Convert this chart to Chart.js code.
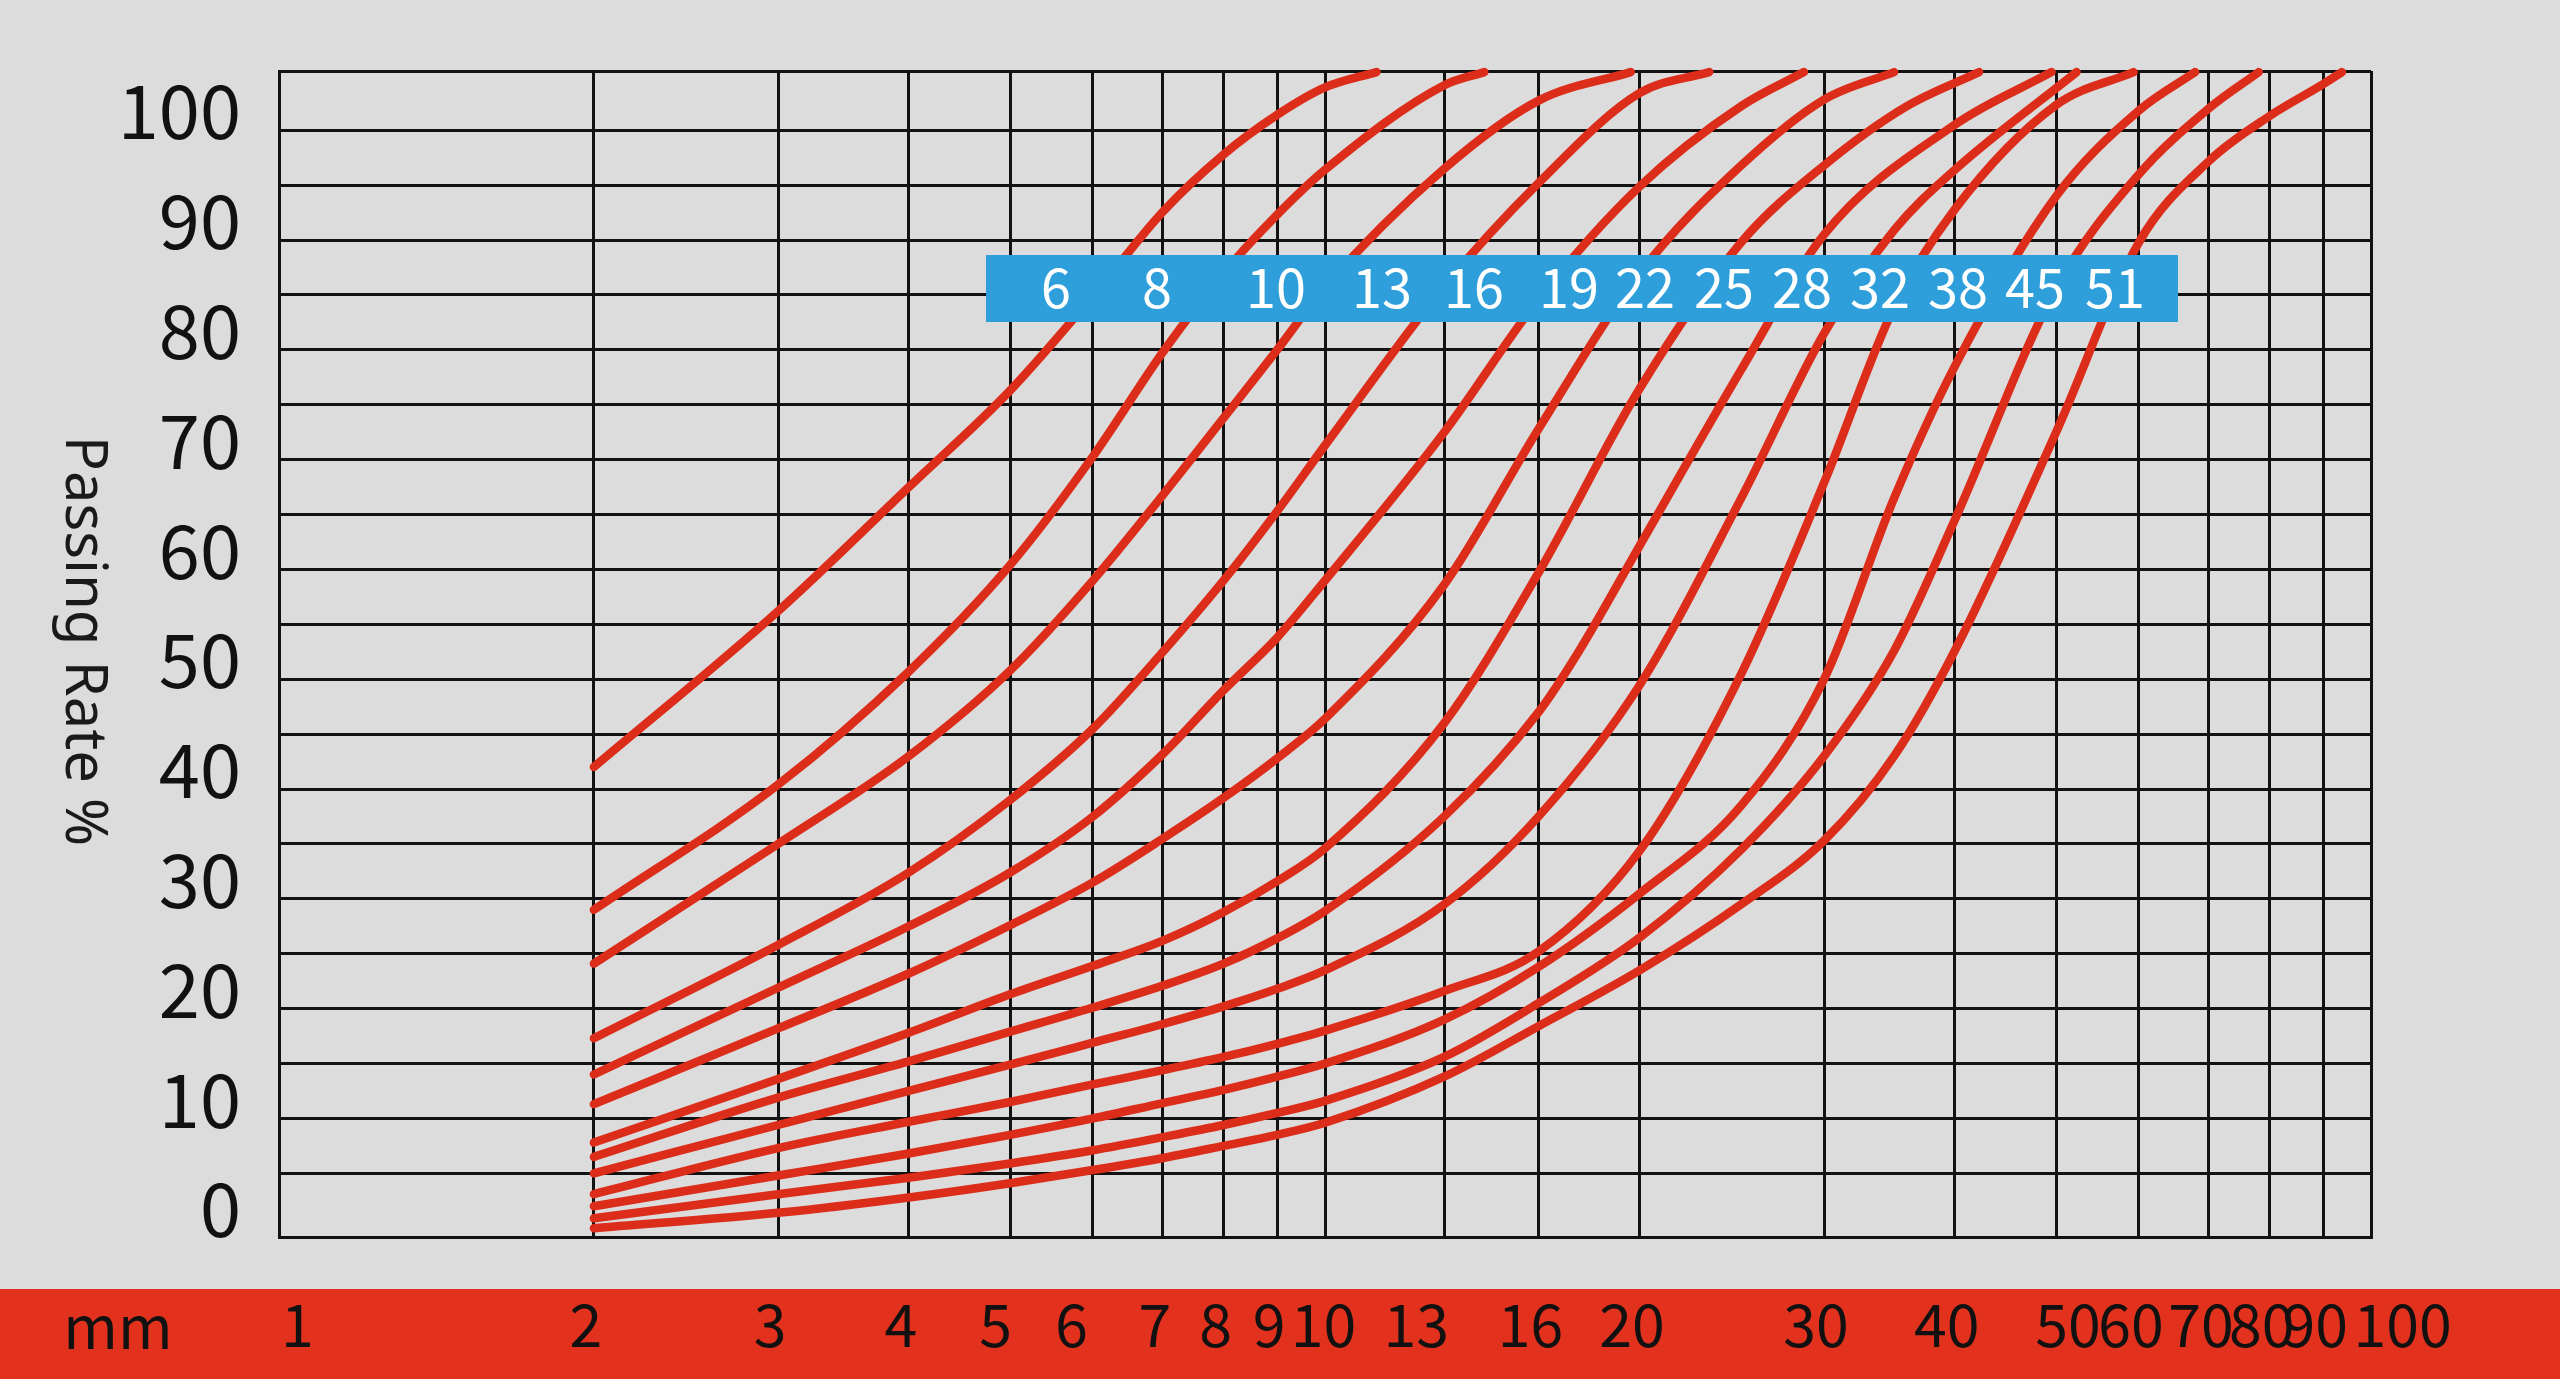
<!DOCTYPE html>
<html>
<head>
<meta charset="utf-8">
<title>Passing Rate %</title>
<script src="https://cdn.jsdelivr.net/npm/chart.js@4.4.1/dist/chart.umd.min.js"></script>
<style>
  html, body { margin: 0; padding: 0; background: #dcdcdc; }
  canvas { display: block; }
</style>
</head>
<body>
<canvas id="grading-chart" width="2560" height="1379"></canvas>
<script>
// max aggregate size (mm) of each curve, as printed in the blue strip
const sizes = ['6', '8', '10', '13', '16', '19', '22', '25', '28', '32', '38', '45', '51'];

// sieve openings on the x axis (mm) and passing rate ticks (%)
const sieveTicks = [1, 2, 3, 4, 5, 6, 7, 8, 9, 10, 13, 16, 20, 30, 40, 50, 60, 70, 80, 90, 100];
const passTicks = [0, 5, 10, 15, 20, 25, 30, 35, 40, 45, 50, 55, 60, 65, 70, 75, 80, 85, 90, 95, 100];

// [sieve mm, passing %]
const curve6 = [[2, 42], [3, 56.2], [4, 67.5], [5, 76.3], [6, 84.9], [7, 92.6], [8, 97.8], [9, 101.4], [10, 103.9], [11.2, 105.3]];
const curve8 = [[2, 29], [3, 40.4], [4, 50.7], [5, 60.4], [6, 70.3], [7, 79.8], [8, 87], [9, 92.3], [10, 96.4], [13, 104.1], [14.2, 105.3]];
const curve10 = [[2, 24.1], [3, 35], [4, 43], [5, 50.8], [6, 59], [7, 66.8], [8, 73.8], [9, 80], [10, 85.7], [13, 96.5], [16, 102.7], [19.6, 105.3]];
const curve13 = [[2, 17.3], [3, 25.8], [4, 32.4], [5, 39], [6, 45.5], [7, 52.5], [8, 59], [9, 65.3], [10, 71.3], [13, 85.8], [16, 95.2], [20, 103.4], [23.3, 105.3]];
const curve16 = [[2, 14], [3, 21.9], [4, 27.5], [5, 32.4], [6, 37.5], [7, 43.2], [8, 49], [9, 53.8], [10, 59], [13, 72.5], [16, 84.6], [20, 94.9], [25, 102.2], [28.7, 105.3]];
const curve19 = [[2, 11.3], [3, 18.2], [4, 23.2], [5, 27.6], [6, 31.5], [7, 35.5], [8, 39.2], [9, 42.8], [10, 46.4], [13, 58.6], [16, 72.8], [20, 87], [25, 96.8], [30, 102.8], [35, 105.3]];
const curve22 = [[2, 7.8], [3, 13.6], [4, 17.8], [5, 21.3], [6, 23.9], [7, 26.2], [8, 28.8], [9, 31.6], [10, 34.6], [13, 46], [16, 59.7], [20, 76.5], [25, 89.8], [30, 96.8], [36, 102.2], [42.2, 105.3]];
const curve25 = [[2, 6.5], [3, 11.9], [4, 15.2], [5, 17.9], [6, 20.1], [7, 22.1], [8, 24.1], [9, 26.4], [10, 28.9], [13, 37.5], [16, 47], [17.5, 52.6], [20, 62.2], [25, 78.2], [30, 90.5], [40, 100.5], [49.5, 105.3]];
const curve28 = [[2, 5], [3, 9.4], [4, 12.5], [5, 14.9], [6, 16.9], [7, 18.6], [8, 20.2], [9, 21.8], [10, 23.5], [13, 29.5], [16, 37.5], [20, 49.5], [25, 66.5], [30, 81.5], [35, 90.9], [40, 96.4], [52.3, 105.3]];
const curve32 = [[2, 3.1], [3, 7.3], [4, 9.7], [5, 11.5], [6, 13.1], [7, 14.4], [8, 15.6], [9, 16.8], [10, 18], [13, 21.6], [16, 25.2], [20, 34.4], [25, 50.5], [30, 67.9], [35, 83.9], [40, 92.8], [50, 102.3], [59.3, 105.3]];
const curve38 = [[2, 2], [3, 4.8], [4, 6.8], [5, 8.5], [6, 10], [7, 11.4], [8, 12.6], [9, 13.8], [10, 15], [13, 19], [16, 23.8], [20, 30.5], [25, 38.5], [30, 50], [35, 66.5], [40, 78.5], [50, 94], [60, 101.8], [67.9, 105.3]];
const curve45 = [[2, 0.9], [3, 3.1], [4, 4.6], [5, 5.9], [6, 7.1], [7, 8.3], [8, 9.4], [9, 10.5], [10, 11.6], [13, 15.6], [16, 20.5], [20, 26.5], [25, 34.5], [30, 43], [35, 52.6], [40, 64.5], [50, 85.6], [60, 96], [70, 102], [78.1, 105.3]];
const curve51 = [[2, 0], [3, 1.4], [4, 2.8], [5, 4.1], [6, 5.3], [7, 6.4], [8, 7.5], [9, 8.5], [10, 9.6], [13, 13.8], [16, 18.4], [20, 23.5], [25, 29.5], [30, 35.3], [35, 43], [40, 52.6], [50, 72.5], [60, 89.8], [70, 97.2], [80, 101.3], [90, 104.2], [93.8, 105.3]];

const curves = [curve6, curve8, curve10, curve13, curve16, curve19, curve22, curve25, curve28, curve32, curve38, curve45, curve51];

const gridColor = '#121212';
const curveColor = '#dc2d1a';

// some x labels sit a little off their grid line in the original:
// positive = pad on the left (moves right), negative = pad on the right
const labelNudge = { 1: 4, 5: -1, 6: -2, 10: 1, 13: -3, 50: 3, 100: 6 };
const xLabel = (v) => {
    const n = labelNudge[v] || 0;
    const pad = ' '.repeat(Math.abs(n));
    return n > 0 ? pad + v : String(v) + pad;
};

// background, red mm band, blue size strip and the free-standing texts
const decorations = {
    id: 'decorations',
    beforeDraw(chart) {
        const ctx = chart.ctx;
        ctx.save();
        ctx.fillStyle = '#dcdcdc';
        ctx.fillRect(0, 0, chart.width, chart.height);
        ctx.fillStyle = '#e2321d';
        ctx.fillRect(0, 1289, chart.width, chart.height - 1289);
        ctx.restore();
    },
    afterDraw(chart) {
        const ctx = chart.ctx;
        ctx.save();

        // blue strip with the size of each curve
        ctx.fillStyle = '#2f9fdc';
        ctx.fillRect(986, 255, 1192, 67);
        const labelX = [1056, 1157, 1276, 1382, 1474, 1569, 1645, 1724, 1802, 1880, 1958, 2035, 2115];
        ctx.fillStyle = '#ffffff';
        ctx.font = '54px "Noto Sans CJK SC"';
        ctx.textAlign = 'center';
        ctx.textBaseline = 'alphabetic';
        sizes.forEach((s, i) => ctx.fillText(s, labelX[i], 308));

        // unit in the red band
        ctx.fillStyle = '#111111';
        ctx.font = '59px "Noto Sans CJK SC"';
        ctx.fillText('mm', 118, 1349);

        // y axis title, reading top to bottom
        ctx.translate(66, 641);
        ctx.rotate(Math.PI / 2);
        ctx.fillStyle = '#1a1a1a';
        ctx.font = '58px "Noto Sans"';
        ctx.fillText('Passing Rate %', 0, 0);
        ctx.restore();
    }
};

new Chart(document.getElementById('grading-chart'), {
    type: 'line',
    data: {
        datasets: curves.map((c, i) => ({
            label: sizes[i] + ' mm',
            data: c,
            borderColor: curveColor,
            backgroundColor: curveColor,
            borderWidth: 8.5,
            borderCapStyle: 'round',
            borderJoinStyle: 'round',
            cubicInterpolationMode: 'monotone',
            pointRadius: 0,
            fill: false,
            clip: false,
        }))
    },
    options: {
        responsive: false,
        animation: false,
        devicePixelRatio: 1,
        layout: { padding: { left: 0, top: 71, right: 189, bottom: 0 } },
        plugins: {
            legend: { display: false },
            tooltip: { enabled: false },
        },
        scales: {
            x: {
                type: 'logarithmic',
                min: 1,
                max: 100,
                afterBuildTicks: (scale) => { scale.ticks = sieveTicks.map(v => ({ value: v })); },
                afterFit: (scale) => {
                    scale.height = 142;
                    scale.paddingLeft = 0;
                    scale.paddingRight = 0;
                },
                grid: { color: gridColor, lineWidth: 3, drawTicks: false },
                border: { color: gridColor, width: 3 },
                ticks: {
                    autoSkip: false,
                    maxRotation: 0,
                    minRotation: 0,
                    padding: 52,
                    labelOffset: -8,
                    color: '#111111',
                    font: { family: '"Noto Sans CJK SC"', size: 59 },
                    callback: xLabel,
                },
            },
            y: {
                min: -0.8,
                max: 105.4,
                afterBuildTicks: (scale) => { scale.ticks = passTicks.concat([105.4]).map(v => ({ value: v })); },
                afterFit: (scale) => {
                    scale.width = 279;
                    scale.paddingTop = 0;
                    scale.paddingBottom = 0;
                },
                grid: {
                    color: (c) => (c.tick && c.tick.value === 0) ? 'rgba(0,0,0,0)' : gridColor,
                    lineWidth: 3,
                    drawTicks: false,
                },
                border: { color: gridColor, width: 3 },
                ticks: {
                    autoSkip: false,
                    padding: 38,
                    labelOffset: -19,
                    color: '#111111',
                    font: { family: '"Noto Sans CJK SC"', size: 74 },
                    callback: (v) => (v % 10 === 0 ? String(v) : ''),
                },
            },
        },
    },
    plugins: [decorations],
});
</script>
</body>
</html>
